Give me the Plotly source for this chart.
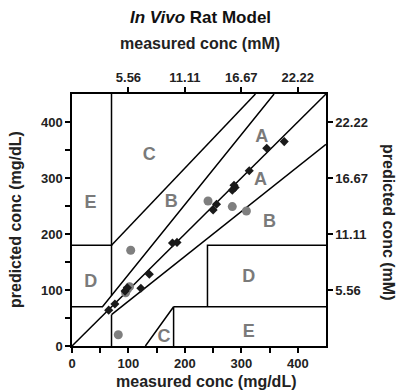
import plotly.graph_objects as go

# ---------------- data ----------------
# Clarke error grid boundaries (mg/dL): measured (x), predicted (y)
diag_x = [0, 450]
diag_y = [0, 450]
upperA_x = [0, 54, 358]
upperA_y = [70, 70, 450]
lowerA_x = [70, 450]
lowerA_y = [56, 360]
upperB_x = [70, 325]
upperB_y = [180, 450]
leftE_x = [0, 70, 70]
leftE_y = [180, 180, 450]
leftV_x = [70, 70]
leftV_y = [90, 180]
lowV_x = [70, 70]
lowV_y = [0, 56]
lowerC_x = [130, 180, 180]
lowerC_y = [0, 70, 0]
lowerE_x = [180, 450]
lowerE_y = [70, 70]
rightD_x = [240, 240, 450]
rightD_y = [70, 180, 180]

# zone labels
zone_text = ["C", "E", "B", "A", "A", "B", "D", "D", "C", "E"]
zone_x = [137, 33, 176, 336, 334, 350, 33, 313, 163, 313]
zone_y = [340, 254, 256, 372, 296, 220, 113, 122, 16, 24]

# measurements: diamonds (black) and circles (gray)
diam_x = [65, 76, 94, 98, 122, 137, 178, 186, 250, 256, 284, 289, 287, 314, 345, 376]
diam_y = [64, 75, 98, 104, 103, 128, 184, 185, 243, 253, 278, 283, 287, 313, 353, 365]
circ_x = [104, 82, 95, 98, 102, 241, 284, 309]
circ_y = [171, 20, 95, 101, 106, 259, 249, 241]

# ticks
mg_ticks = [0, 50, 100, 150, 200, 250, 300, 350, 400]
mg_labels = ["0", "", "100", "", "200", "", "300", "", "400"]
mM_tickvals = [100, 200, 300, 400]
mM_labels = ["5.56", "11.11", "16.67", "22.22"]

# ---------------- figure ----------------
fig = go.Figure()
line = dict(color="black", width=1.5)
for xs, ys in [(diag_x, diag_y), (upperA_x, upperA_y), (lowerA_x, lowerA_y),
               (upperB_x, upperB_y), (leftE_x, leftE_y), (leftV_x, leftV_y),
               (lowV_x, lowV_y), (lowerC_x, lowerC_y), (lowerE_x, lowerE_y),
               (rightD_x, rightD_y)]:
    fig.add_trace(go.Scatter(x=xs, y=ys, mode="lines", line=line,
                             hoverinfo="skip", showlegend=False))

fig.add_trace(go.Scatter(x=zone_x, y=zone_y, mode="text", text=zone_text,
                         textfont=dict(family="Liberation Sans", size=18,
                                       color="#7a7a7a", weight="bold"),
                         showlegend=False))

fig.add_trace(go.Scatter(x=circ_x, y=circ_y, mode="markers",
                         marker=dict(symbol="circle", size=9, color="#7f7f7f"),
                         showlegend=False))
fig.add_trace(go.Scatter(x=diam_x, y=diam_y, mode="markers",
                         marker=dict(symbol="diamond", size=7, color="#1a1a1a"),
                         showlegend=False))

# invisible trace for secondary axes
fig.add_trace(go.Scatter(x=[0, 450], y=[0, 450], xaxis="x2", yaxis="y2",
                         mode="markers", marker=dict(opacity=0),
                         hoverinfo="skip", showlegend=False))

tickfont = dict(family="Liberation Sans", size=13, color="#222", weight="bold")
axcommon = dict(range=[0, 450], showgrid=False, zeroline=False,
                showline=True, linecolor="black", linewidth=1.5,
                ticks="outside", ticklen=5, tickwidth=1.5, tickcolor="black",
                tickfont=tickfont, fixedrange=True)

fig.update_layout(
    width=400, height=391,
    margin=dict(l=72, r=74, t=94, b=45),
    plot_bgcolor="white", paper_bgcolor="white",
    xaxis=dict(**axcommon, tickvals=mg_ticks, ticktext=mg_labels),
    yaxis=dict(**axcommon, tickvals=mg_ticks, ticktext=mg_labels),
    xaxis2=dict(**axcommon, overlaying="x", side="top", anchor="y",
                tickvals=mM_tickvals, ticktext=mM_labels),
    yaxis2=dict(**axcommon, overlaying="y", side="right", anchor="x",
                tickvals=mM_tickvals, ticktext=mM_labels),
    showlegend=False,
)

tfont = dict(family="Liberation Sans", size=16, color="#222", weight="bold")


def ann(text, px, py, font, angle=0):
    fig.add_annotation(text=text, xref="paper", yref="paper",
                       x=(px - 72) / 254, y=(346 - py) / 252,
                       xanchor="center", yanchor="middle",
                       textangle=angle, showarrow=False, font=font)


ann("<i>In Vivo</i> Rat Model", 200, 17,
    dict(family="Liberation Sans", size=17, color="#111", weight="bold"))
ann("measured conc (mM)", 200, 43, tfont)
ann("measured conc (mg/dL)", 206, 381, tfont)
ann("predicted conc (mg/dL)", 15, 220, tfont, -90)
ann("predicted conc (mM)", 389, 222, tfont, 90)

fig.write_html("out.html")
